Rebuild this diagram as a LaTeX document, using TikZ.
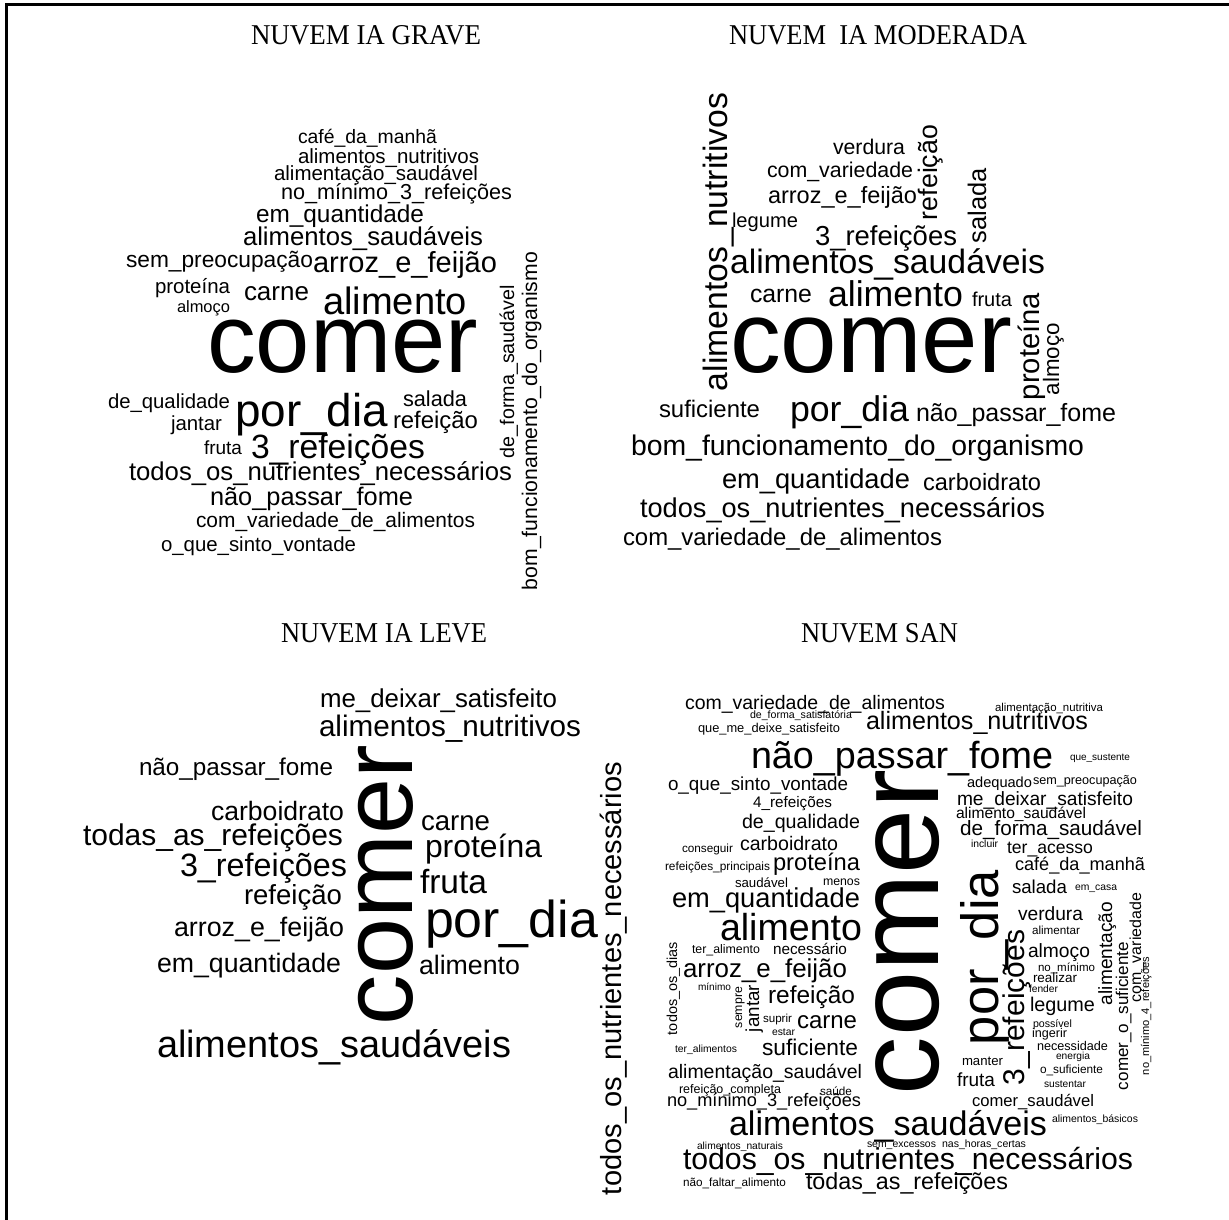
\documentclass[tikz,border=0pt]{standalone}
\usepackage{fontspec}
\setmainfont{Liberation Sans}
\newfontfamily\titlefont{Liberation Serif}
\usepackage{graphicx}
\newcommand{\HW}[5]{\node[wrd] (#1) at (#2,#3) {\resizebox{#4pt}{!}{#5}};}
\newcommand{\VW}[5]{\node[vwrd] (#1) at (#2,#3) {\resizebox{#4pt}{!}{#5}};}
\newcommand{\TW}[6]{\node[ttl] (#1) at (#2,#3) {\resizebox{#4pt}{#5pt}{#6}};}
\begin{document}
\begin{tikzpicture}[x=1pt,y=-1pt,
  wrd/.style={inner sep=0pt, outer sep=0pt, anchor=base west},
  vwrd/.style={wrd, rotate=90},
  ttl/.style={inner sep=0pt, outer sep=0pt, anchor=base west, font=\titlefont}]
\useasboundingbox (0,0) rectangle (1229,1220);
\fill[white] (0,0) rectangle (1229,1220);
\coordinate (tr) at (1229,4.5);
\coordinate (tl) at (6.5,4.5);
\coordinate (bl) at (6.5,1220);
\draw[line width=3pt] (tr) -- (tl) -- (bl);
% titles
\TW{t1}{251}{45}{230}{19}{NUVEM IA GRAVE}
\TW{t2}{729}{45}{298}{19}{NUVEM\ \ IA MODERADA}
\TW{t3}{281}{642}{206}{19}{NUVEM IA LEVE}
\TW{t4}{801}{642}{157}{19}{NUVEM SAN}
% GRAVE
\HW{g1}{298}{144}{139}{café\_da\_manhã}
\HW{g2}{298}{164}{181}{alimentos\_nutritivos}
\HW{g3}{274}{181}{204}{alimentação\_saudável}
\HW{g4}{281}{200}{231}{no\_mínimo\_3\_refeições}
\HW{g5}{256}{222}{168}{em\_quantidade}
\HW{g6}{243}{245}{240}{alimentos\_saudáveis}
\HW{g7}{126}{267}{187}{sem\_preocupação}
\HW{g8}{313}{272}{184}{arroz\_e\_feijão}
\HW{g9}{155}{293}{75}{proteína}
\HW{g10}{177}{312}{53}{almoço}
\HW{g11}{244}{300}{65}{carne}
\HW{g12}{323}{314}{144}{alimento}
\HW{g13}{207}{372}{271}{comer}
\HW{g14}{108}{408}{122}{de\_qualidade}
\HW{g15}{235}{426}{153}{por\_dia}
\HW{g16}{403}{406}{64}{salada}
\HW{g17}{393}{428}{85}{refeição}
\HW{g18}{171}{430}{51}{jantar}
\HW{g19}{204}{454}{38}{fruta}
\HW{g20}{251}{458}{174}{3\_refeições}
\HW{g21}{129}{480}{383}{todos\_os\_nutrientes\_necessários}
\HW{g22}{210}{505}{203}{não\_passar\_fome}
\HW{g23}{196}{527}{279}{com\_variedade\_de\_alimentos}
\HW{g24}{161}{551}{195}{o\_que\_sinto\_vontade}
\VW{g25}{514}{458}{173}{de\_forma\_saudável}
\VW{g26}{537}{590}{338}{bom\_funcionamento\_do\_organismo}
% MODERADA
\VW{m1}{727}{391}{298}{alimentos\_nutritivos}
\HW{m2}{833}{155}{72}{verdura}
\HW{m3}{767}{177}{146}{com\_variedade}
\HW{m4}{768}{203}{149}{arroz\_e\_feijão}
\VW{m5}{937}{220}{95}{refeição}
\VW{m6}{986}{243}{75}{salada}
\HW{m7}{732}{227}{66}{legume}
\HW{m8}{815}{245}{142}{3\_refeições}
\HW{m9}{730}{273}{315}{alimentos\_saudáveis}
\HW{m10}{750}{302}{62}{carne}
\HW{m11}{828}{306}{135}{alimento}
\HW{m12}{972}{306}{40}{fruta}
\HW{m13}{730}{372}{282}{comer}
\VW{m14}{1039}{400}{107}{proteína}
\VW{m15}{1059}{395}{72}{almoço}
\HW{m16}{659}{417}{101}{suficiente}
\HW{m17}{790}{421}{119}{por\_dia}
\HW{m18}{916}{421}{200}{não\_passar\_fome}
\HW{m19}{631}{455}{453}{bom\_funcionamento\_do\_organismo}
\HW{m20}{722}{488}{188}{em\_quantidade}
\HW{m21}{923}{490}{118}{carboidrato}
\HW{m22}{640}{517}{405}{todos\_os\_nutrientes\_necessários}
\HW{m23}{623}{545}{319}{com\_variedade\_de\_alimentos}
% LEVE
\HW{l1}{320}{707}{237}{me\_deixar\_satisfeito}
\HW{l2}{319}{736}{262}{alimentos\_nutritivos}
\HW{l3}{139}{775}{194}{não\_passar\_fome}
\HW{l4}{211}{820}{133}{carboidrato}
\HW{l5}{83}{845}{260}{todas\_as\_refeições}
\HW{l6}{180}{876}{167}{3\_refeições}
\HW{l7}{244}{904}{98}{refeição}
\HW{l8}{174}{936}{170}{arroz\_e\_feijão}
\HW{l9}{157}{972}{184}{em\_quantidade}
\HW{l10}{157}{1057}{354}{alimentos\_saudáveis}
\VW{l11}{412}{1025}{280}{comer}
\HW{l12}{421}{830}{69}{carne}
\HW{l13}{425}{857}{117}{proteína}
\HW{l14}{420}{893}{67}{fruta}
\HW{l15}{425}{937}{173}{por\_dia}
\HW{l16}{419}{974}{101}{alimento}
\VW{l17}{621}{1195}{433}{todos\_os\_nutrientes\_necessários}
% SAN
\HW{s1}{685}{709}{260}{com\_variedade\_de\_alimentos}
\HW{s2}{750}{718}{102}{de\_forma\_satisfatória}
\HW{s3}{698}{732}{142}{que\_me\_deixe\_satisfeito}
\HW{s4}{866}{729}{222}{alimentos\_nutritivos}
\HW{s5}{995}{711}{108}{alimentação\_nutritiva}
\HW{s6}{751}{768}{302}{não\_passar\_fome}
\HW{s7}{1070}{760}{60}{que\_sustente}
\HW{s8}{668}{790}{180}{o\_que\_sinto\_vontade}
\HW{s9}{753}{807}{79}{4\_refeições}
\HW{s10}{742}{828}{118}{de\_qualidade}
\HW{s11}{740}{850}{98}{carboidrato}
\HW{s12}{682}{852}{51}{conseguir}
\HW{s13}{665}{870}{105}{refeições\_principais}
\HW{s14}{773}{870}{87}{proteína}
\HW{s15}{735}{887}{53}{saudável}
\HW{s16}{823}{885}{37}{menos}
\HW{s17}{672}{907}{188}{em\_quantidade}
\HW{s18}{720}{940}{142}{alimento}
\HW{s19}{692}{953}{68}{ter\_alimento}
\HW{s20}{773}{954}{74}{necessário}
\HW{s21}{683}{977}{164}{arroz\_e\_feijão}
\VW{s22}{677}{1035}{93}{todos\_os\_dias}
\HW{s23}{698}{990}{33}{mínimo}
\VW{s24}{742}{1028}{41}{sempre}
\VW{s25}{759}{1032}{47}{jantar}
\HW{s26}{768}{1003}{87}{refeição}
\HW{s27}{763}{1022}{29}{suprir}
\HW{s28}{772}{1035}{23}{estar}
\HW{s29}{797}{1028}{60}{carne}
\HW{s30}{675}{1052}{62}{ter\_alimentos}
\HW{s31}{762}{1055}{96}{suficiente}
\HW{s32}{668}{1078}{194}{alimentação\_saudável}
\HW{s33}{679}{1093}{102}{refeição\_completa}
\HW{s34}{820}{1095}{32}{saúde}
\HW{s35}{667}{1106}{194}{no\_mínimo\_3\_refeições}
\HW{s36}{972}{1106}{122}{comer\_saudável}
\HW{s37}{729}{1135}{318}{alimentos\_saudáveis}
\HW{s38}{1052}{1122}{86}{alimentos\_básicos}
\HW{s39}{697}{1149}{86}{alimentos\_naturais}
\HW{s40}{867}{1147}{69}{sem\_excessos}
\HW{s41}{942}{1147}{84}{nas\_horas\_certas}
\HW{s42}{683}{1169}{450}{todos\_os\_nutrientes\_necessários}
\HW{s43}{683}{1186}{103}{não\_faltar\_alimento}
\HW{s44}{806}{1189}{202}{todas\_as\_refeições}
\VW{s45}{938}{1095}{325}{comer}
\VW{s46}{998}{1045}{175}{por\_dia}
\VW{s47}{1024}{1085}{155}{3\_refeições}
\HW{s48}{1012}{893}{55}{salada}
\HW{s49}{1075}{890}{42}{em\_casa}
\HW{s50}{1018}{920}{65}{verdura}
\HW{s51}{1032}{934}{48}{alimentar}
\HW{s52}{1028}{957}{62}{almoço}
\HW{s53}{1038}{971}{57}{no\_mínimo}
\HW{s54}{1033}{982}{44}{realizar}
\HW{s55}{1029}{992}{29}{fender}
\HW{s56}{1030}{1011}{65}{legume}
\HW{s57}{1033}{1027}{39}{possível}
\HW{s58}{1032}{1037}{35}{ingerir}
\HW{s59}{1037}{1050}{71}{necessidade}
\HW{s60}{1056}{1059}{34}{energia}
\HW{s61}{1040}{1073}{63}{o\_suficiente}
\HW{s62}{962}{1065}{41}{manter}
\HW{s63}{957}{1086}{38}{fruta}
\HW{s64}{1044}{1087}{42}{sustentar}
\VW{s65}{1112}{1005}{103}{alimentação}
\VW{s66}{1128}{1090}{148}{comer\_o\_suficiente}
\VW{s67}{1141}{1002}{109}{com\_variedade}
\VW{s68}{1149}{1075}{118}{no\_mínimo\_4\_refeições}
\HW{s69}{967}{787}{65}{adequado}
\HW{s70}{1033}{784}{104}{sem\_preocupação}
\HW{s71}{957}{805}{176}{me\_deixar\_satisfeito}
\HW{s72}{956}{818}{130}{alimento\_saudável}
\HW{s73}{960}{835}{182}{de\_forma\_saudável}
\HW{s74}{971}{847}{27}{incluir}
\HW{s75}{1007}{853}{86}{ter\_acesso}
\HW{s76}{1015}{870}{130}{café\_da\_manhã}
\end{tikzpicture}
\end{document}
